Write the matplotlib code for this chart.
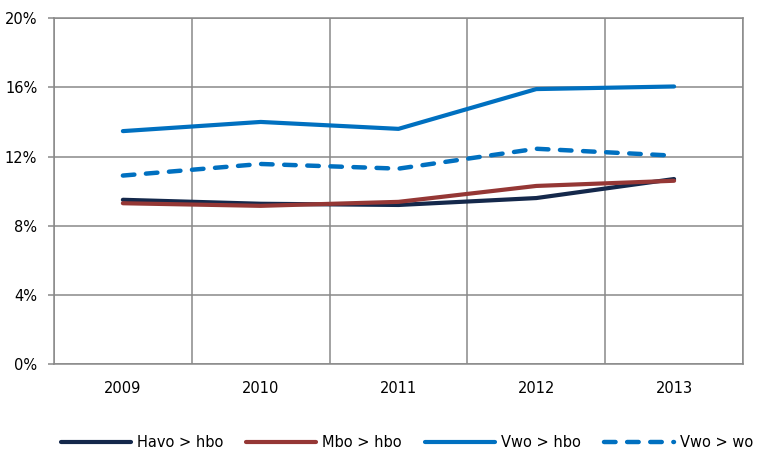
import matplotlib.pyplot as plt
import numpy as np

# Data (percentages)
years = ['2009', '2010', '2011', '2012', '2013']
havo_hbo = [9.5, 9.27, 9.2, 9.6, 10.7]
mbo_hbo = [9.3, 9.15, 9.38, 10.3, 10.6]
vwo_hbo = [13.47, 14.0, 13.6, 15.9, 16.05]
vwo_wo = [10.9, 11.57, 11.3, 12.45, 12.05]
yticks = [0, 4, 8, 12, 16, 20]

grid_col = '#898989'
plt.rcParams['font.family'] = 'DejaVu Sans'

fig = plt.figure(figsize=(7.58, 4.54), dpi=100)
ax = fig.add_axes([0.0712, 0.198, 0.909, 0.762])

x = np.arange(len(years))
ax.plot(x, havo_hbo, color='#14284b', lw=3, solid_capstyle='round', label='Havo > hbo')
ax.plot(x, mbo_hbo, color='#953735', lw=3, solid_capstyle='round', label='Mbo > hbo')
ax.plot(x, vwo_hbo, color='#0070c0', lw=3, solid_capstyle='round', label='Vwo > hbo')
ax.plot(x, vwo_wo, color='#0070c0', lw=3.2, dash_capstyle='round',
        dashes=(2.6, 2.6), label='Vwo > wo')

ax.set_xlim(-0.5, len(years) - 0.5)
ax.set_ylim(0, 20)
ax.set_xticks(x)
ax.set_xticklabels(years, fontsize=10.5)
ax.set_xticks(np.arange(len(years) + 1) - 0.5, minor=True)
ax.set_yticks(yticks)
ax.set_yticklabels(['%d%%' % v for v in yticks], fontsize=10.5)

ax.tick_params(axis='x', which='major', length=0, pad=12)
ax.tick_params(axis='x', which='minor', length=0)
ax.tick_params(axis='y', length=4, width=1.1, color=grid_col, pad=8)

ax.grid(True, axis='y', color=grid_col, lw=1.1)
ax.grid(True, axis='x', which='minor', color=grid_col, lw=1.1)
ax.set_axisbelow(True)
for s in ax.spines.values():
    s.set_color(grid_col)
    s.set_linewidth(1.1)

fig.legend(loc='center', bbox_to_anchor=(0.537, 0.025), ncol=4, frameon=False,
           fontsize=10.5, handlelength=4.8, handletextpad=0.4, columnspacing=1.6)

fig.savefig('out.png', dpi=100)
